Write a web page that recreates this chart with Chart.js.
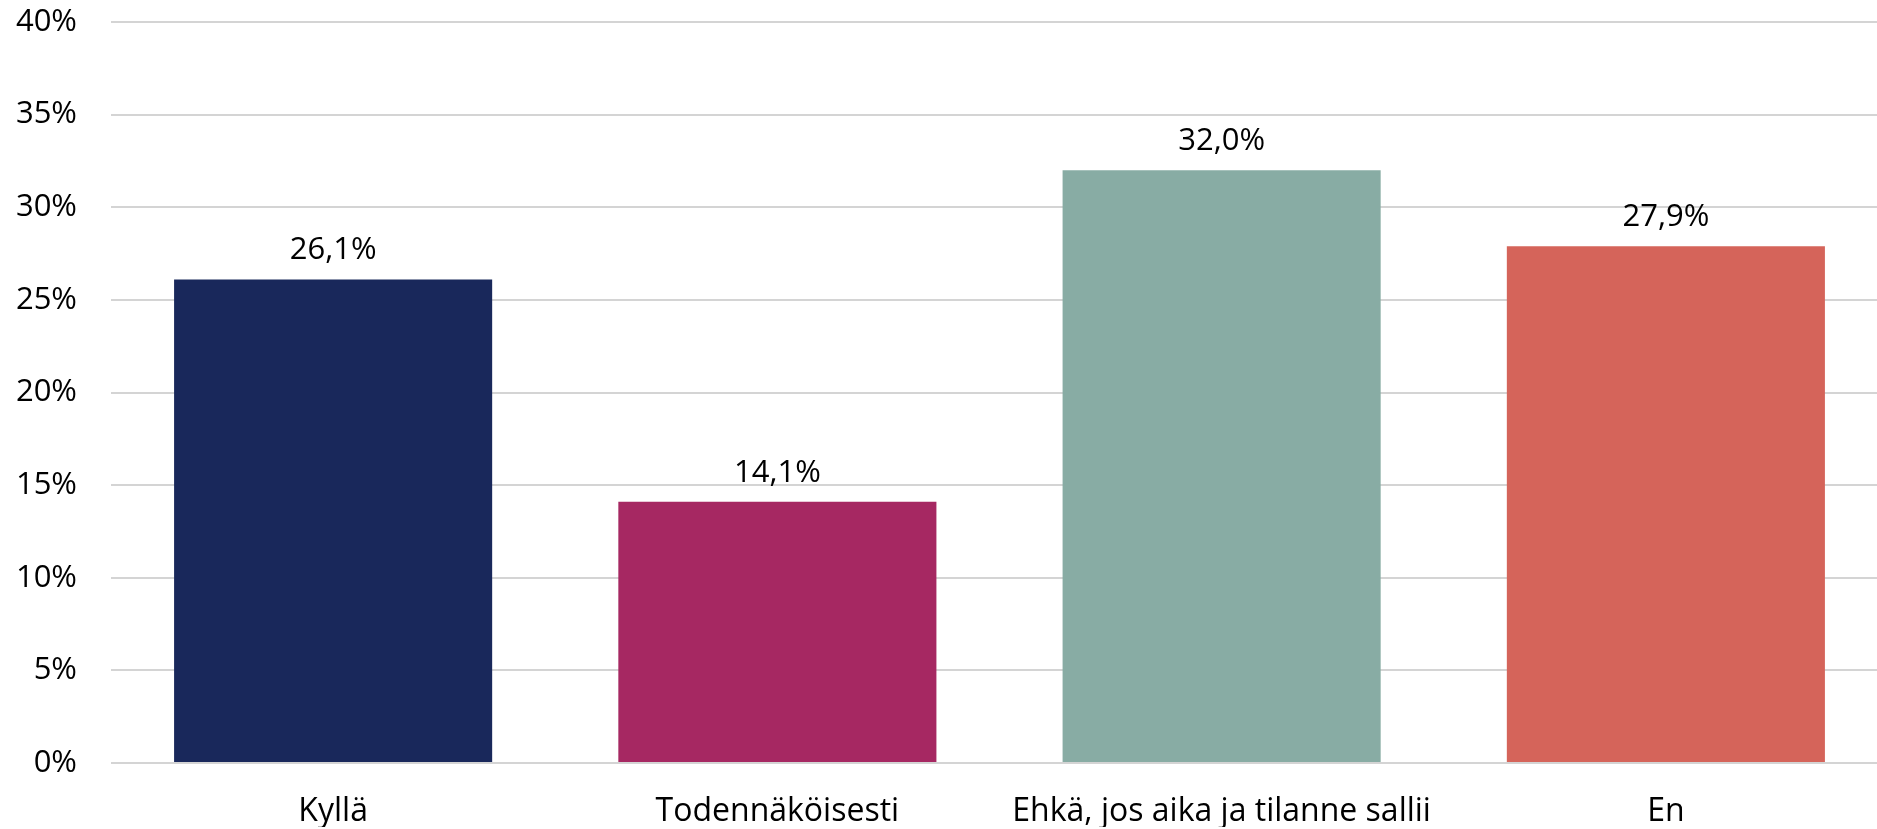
<!DOCTYPE html>
<html>
<head>
<meta charset="utf-8">
<script src="https://cdn.jsdelivr.net/npm/chart.js@4"></script>
<style>
  html, body { margin: 0; padding: 0; background: #fff; overflow: hidden; }
  /* kaavioalue jatkuu hieman ikkunan oikean reunan yli kuten alkuperäisessä */
  #wrap { width: 1888px; height: 829px; position: relative; }
</style>
</head>
<body>
<div id="wrap"><canvas id="chart"></canvas></div>
<script>
const categories = ['Kyllä', 'Todennäköisesti', 'Ehkä, jos aika ja tilanne sallii', 'En'];
const values = [26.1, 14.1, 32.0, 27.9];
const barColors = ['#19285b', '#a62862', '#88aca4', '#d5645a'];
const yTicks = [0, 5, 10, 15, 20, 25, 30, 35, 40];

const fontFamily = "'Open Sans', 'Noto Sans', sans-serif";

// arvot pylväiden päälle
const valueLabels = {
  id: 'valueLabels',
  afterDatasetsDraw(chart) {
    const ctx = chart.ctx;
    const meta = chart.getDatasetMeta(0);
    ctx.save();
    ctx.font = '31px ' + fontFamily;
    ctx.fillStyle = '#000';
    ctx.textAlign = 'center';
    ctx.textBaseline = 'alphabetic';
    meta.data.forEach((bar, i) => {
      const text = values[i].toFixed(1).replace('.', ',') + '%';
      ctx.fillText(text, bar.x, bar.y - 20);
    });
    ctx.restore();
  }
};

const ctx = document.getElementById('chart').getContext('2d');

new Chart(ctx, {
  type: 'bar',
  data: {
    labels: categories,
    datasets: [{
      data: values,
      backgroundColor: barColors,
      borderWidth: 0,
      categoryPercentage: 0.716,
      barPercentage: 1.0
    }]
  },
  options: {
    responsive: true,
    maintainAspectRatio: false,
    animation: false,
    layout: {
      padding: { top: 22, left: 0, right: 0, bottom: 2 }
    },
    plugins: {
      legend: { display: false },
      tooltip: { enabled: false }
    },
    scales: {
      x: {
        grid: { display: false, drawTicks: false },
        border: { display: false },
        ticks: {
          color: '#000',
          padding: 30,
          maxRotation: 0,
          font: { family: fontFamily, size: 32 }
        },
        afterFit(axis) {
          axis.height = 64;
          axis.paddingRight = 0;
        }
      },
      y: {
        min: 0,
        max: 40,
        afterBuildTicks(axis) {
          axis.ticks = yTicks.map(v => ({ value: v }));
        },
        grid: { color: '#d4d4d4', lineWidth: 2, drawTicks: false },
        border: { display: false },
        ticks: {
          color: '#000',
          padding: 34,
          font: { family: fontFamily, size: 31 },
          callback: v => v + '%'
        },
        afterFit(axis) {
          axis.width = 111;
          axis.paddingTop = 0;
          axis.paddingBottom = 0;
        }
      }
    }
  },
  plugins: [valueLabels]
});
</script>
</body>
</html>
